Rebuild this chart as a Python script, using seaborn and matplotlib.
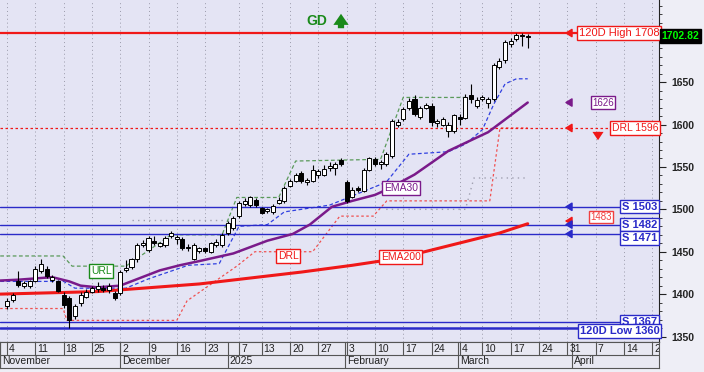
import matplotlib
matplotlib.use("Agg")
import matplotlib.pyplot as plt
import numpy as np
import seaborn as sns

# daily candles, one per trading day starting Mon 4 Nov 2024
opens = [1386, 1393, 1415, 1410, 1409, 1416, 1427, 1430, 1417, 1415,
         1399, 1395, 1374, 1389, 1397, 1403, 1406, 1407, 1405, 1401,
         1401, 1428, 1432, 1441, 1458, 1452, 1463, 1457, 1458, 1468,
         1465, 1465, 1456, 1442, 1451, 1454, 1450, 1458, 1458, 1472,
         1478, 1492, 1506, 1505, 1511, 1501, 1498, 1497, 1508, 1510,
         1528, 1534, 1543, 1532, 1534, 1540, 1541, 1549, 1549, 1558,
         1532, 1515, 1525, 1522, 1547, 1559, 1554, 1553, 1563, 1600,
         1606, 1619, 1630, 1609, 1620, 1622, 1602, 1600, 1593, 1593,
         1609, 1608, 1635, 1622, 1630, 1625, 1630, 1668, 1676, 1695,
         1701, 1706, 1704]
highs = [1395, 1401, 1427, 1415, 1417, 1433, 1442, 1433, 1423, 1417,
         1402, 1398, 1388, 1402, 1406, 1410, 1414, 1411, 1413, 1404,
         1428, 1440, 1443, 1460, 1464, 1468, 1469, 1462, 1468, 1475,
         1470, 1467, 1459, 1460, 1456, 1456, 1462, 1465, 1472, 1486,
         1492, 1510, 1513, 1516, 1513, 1503, 1502, 1506, 1514, 1527,
         1536, 1543, 1545, 1537, 1552, 1548, 1552, 1556, 1556, 1560,
         1535, 1526, 1527, 1549, 1562, 1562, 1558, 1568, 1607, 1606,
         1621, 1631, 1635, 1622, 1626, 1625, 1607, 1609, 1603, 1613,
         1612, 1636, 1648, 1632, 1635, 1633, 1673, 1678, 1700, 1702,
         1708, 1708, 1707]
lows = [1383, 1391, 1408, 1407, 1407, 1414, 1425, 1419, 1414, 1402,
        1384, 1360, 1371, 1386, 1395, 1401, 1403, 1402, 1401, 1393,
        1399, 1426, 1430, 1438, 1455, 1450, 1458, 1455, 1456, 1466,
        1459, 1452, 1451, 1440, 1449, 1449, 1448, 1456, 1456, 1470,
        1476, 1490, 1504, 1503, 1503, 1494, 1496, 1495, 1506, 1508,
        1526, 1532, 1531, 1529, 1532, 1537, 1539, 1545, 1540, 1551,
        1508, 1513, 1521, 1520, 1545, 1551, 1548, 1551, 1560, 1597,
        1604, 1617, 1610, 1606, 1618, 1598, 1597, 1598, 1585, 1590,
        1600, 1606, 1626, 1620, 1628, 1620, 1628, 1665, 1673, 1692,
        1699, 1693, 1690]
closes = [1392, 1399, 1411, 1413, 1415, 1430, 1436, 1421, 1420, 1404,
          1387, 1369, 1386, 1399, 1403, 1407, 1409, 1405, 1409, 1395,
          1426, 1431, 1441, 1458, 1460, 1466, 1460, 1460, 1466, 1472,
          1467, 1454, 1454, 1458, 1454, 1451, 1460, 1462, 1470, 1484,
          1490, 1508, 1510, 1514, 1505, 1496, 1500, 1504, 1511, 1525,
          1534, 1541, 1534, 1535, 1547, 1545, 1548, 1551, 1553, 1553,
          1510, 1523, 1523, 1547, 1560, 1553, 1556, 1565, 1604, 1603,
          1618, 1628, 1612, 1620, 1623, 1603, 1604, 1606, 1600, 1611,
          1606, 1633, 1630, 1629, 1632, 1630, 1670, 1675, 1697, 1699,
          1706, 1704, 1702.82]

# date axis (trading-day index of each tick)
tick_days = [0, 5, 10, 15, 20, 25, 30, 35, 41, 45, 50, 55, 60, 65, 70, 75,
             80, 84, 89, 94, 99, 104, 109, 114]
tick_labels = ["4", "11", "18", "25", "2", "9", "16", "23", "7", "13", "20", "27",
               "3", "10", "17", "24", "4", "10", "17", "24", "31", "7", "14", "21"]
month_starts = [-1.2, 20, 39, 59.7, 79.7, 99.8]
month_labels = ["November", "December", "2025", "February", "March", "April"]

# overlay lines (day index, value)
ema30_x = [-1.2, 2, 8, 11, 13, 16, 20, 23.5, 27, 30.5, 34, 40, 46, 50.5, 53.5,
           57.4, 61, 65, 67, 72, 78, 85, 92]
ema30_y = [1416, 1417, 1420, 1415, 1410, 1408, 1410, 1419, 1428, 1434, 1439, 1448,
           1463, 1471, 1482, 1503, 1510, 1517, 1523, 1541, 1569, 1591, 1626]
ema200_x = [-1.2, 16, 34, 52, 61, 69, 78, 87, 92]
ema200_y = [1400, 1403, 1412, 1426, 1434, 1442, 1457, 1472, 1483]
band_x = [-1.2, 10, 12, 21, 25, 32, 37.5, 41, 46, 49, 57, 67, 71, 78, 81, 84, 86, 88, 90, 92]
band_y = [1415, 1415, 1407, 1407, 1418, 1434, 1436, 1480, 1482, 1497, 1505, 1532,
          1565, 1568, 1577, 1594, 1624, 1648, 1654, 1654]
drl_x = [-1.2, 9.9, 10.6, 30, 31.8, 40.6, 43.8, 54, 58.8, 64.7, 67.1, 85.3, 87.1, 92]
drl_y = [1383, 1383, 1369, 1369, 1392, 1433, 1450, 1450, 1492, 1492, 1510, 1510, 1596, 1596]
url_x = [-1.2, 9.9, 11.5, 21, 29, 38, 40.6, 48, 51, 66, 70, 81]
url_y = [1445, 1445, 1433, 1433, 1470, 1470, 1514, 1514, 1557, 1559, 1632, 1632]
stop1_x = [22, 39]
stop1_y = [1488, 1488]
stop2_x = [67, 81, 82.5, 92]
stop2_y = [1500, 1500, 1537, 1537]

high_120 = 1708
low_120 = 1360
supports = [1503, 1482, 1471, 1367]
drl_level = 1596
ema30_last = 1626
ema200_last = 1483
last_close = 1702.82

RED = "#f01818"
BLUE = "#2a2ac8"
PURPLE = "#7a1a8a"
GREEN = "#1a8a1a"
BG = "#e4e4f4"

sns.set_style("white")
plt.rcParams["font.family"] = ["Liberation Sans", "DejaVu Sans"]


def px(xpix):
    # pixel column of the reference -> trading-day index
    return (xpix - 7) / 5.66


def py(ypix):
    # pixel row of the reference -> price
    return 1350 + (336.5 - ypix) / 0.8477


fig = plt.figure(figsize=(7.04, 3.72), dpi=100)
fig.patch.set_facecolor("#eeeef6")
ax = fig.add_axes([0, 30 / 372, 659 / 704, 342 / 372])
ax.set_facecolor(BG)
ax.set_xlim(px(0), px(659))
ax.set_ylim(py(342), py(0))

# week grid
for t in tick_days:
    ax.axvline(t, color="#9a9aaa", lw=0.7, ls=(0, (1, 3)), zorder=1)

# horizontal levels
ax.axhline(high_120, color=RED, lw=1.6, zorder=3)
ax.plot([px(0), px(610)], [drl_level] * 2, color=RED, lw=0.9, ls=(0, (2, 2)), zorder=3)
for s in supports[:3]:
    ax.plot([px(0), px(620)], [s, s], color=BLUE, lw=1.0, zorder=3)
ax.plot([px(0), px(620)], [supports[3]] * 2, color=BLUE, lw=1.0, zorder=3)
ax.plot([px(0), px(580)], [low_120] * 2, color=BLUE, lw=1.8, zorder=3)

# indicator lines
for sx, sy in ((stop1_x, stop1_y), (stop2_x, stop2_y)):
    sns.lineplot(x=sx, y=sy, ax=ax, color="#a0a0b0", lw=1.0, ls=(0, (1, 3)), sort=False, zorder=2)
sns.lineplot(x=url_x, y=url_y, ax=ax, color="#5a9a5a", lw=0.9, ls=(0, (3, 2)), sort=False, zorder=2)
sns.lineplot(x=drl_x, y=drl_y, ax=ax, color="#f05050", lw=0.9, ls=(0, (2, 2)), sort=False, zorder=2)
sns.lineplot(x=band_x, y=band_y, ax=ax, color="#3040e0", lw=0.9, ls=(0, (3, 2)), sort=False, zorder=2)
sns.lineplot(x=ema200_x, y=ema200_y, ax=ax, color=RED, lw=2.2, sort=False, zorder=3)
sns.lineplot(x=ema30_x, y=ema30_y, ax=ax, color=PURPLE, lw=1.8, sort=False, zorder=3)

# candles
x = np.arange(len(closes))
o, h, l, c = (np.array(v, dtype=float) for v in (opens, highs, lows, closes))
up = c >= o
body = np.maximum(np.abs(c - o), 0.8)
ax.vlines(x, l, h, color="black", lw=0.8, zorder=4)
ax.bar(x[up], body[up], bottom=o[up], width=0.72, color="white", edgecolor="black", lw=0.7, zorder=5)
ax.bar(x[~up], body[~up], bottom=c[~up], width=0.72, color="black", edgecolor="black", lw=0.7, zorder=5)


def tag(xd, yd, s, color, size=7.5, ha="left", weight="normal"):
    ax.text(xd, yd, s, color=color, fontsize=size, ha=ha, va="center", zorder=8,
            fontweight=weight, bbox=dict(boxstyle="square,pad=0.15", fc="white", ec=color, lw=1.0))


def arrow(yd, color):
    ax.annotate("", xy=(px(562), yd), xytext=(px(573), yd), zorder=8,
                arrowprops=dict(arrowstyle="-|>,head_width=0.25,head_length=0.4", color=color, lw=1.2))


tag(px(579), high_120, "120D High 1708", RED, size=8)
tag(px(612), drl_level, "DRL 1596", RED, size=7.5)
tag(px(592), ema30_last, "1626", PURPLE, size=7)
tag(px(590), py(217), "1483", "#f04040", size=7)
tag(px(622), supports[0], "S 1503", BLUE, size=8, weight="bold")
tag(px(622), supports[1], "S 1482", BLUE, size=8, weight="bold")
tag(px(622), py(238), "S 1471", BLUE, size=8, weight="bold")
tag(px(622), py(322), "S 1367", BLUE, size=8, weight="bold")
tag(px(580), py(331), "120D Low 1360", BLUE, size=8, weight="bold")

for yv, col in [(high_120, RED), (ema30_last, PURPLE), (drl_level, RED), (supports[0], BLUE),
                (py(221), RED), (supports[1], BLUE), (supports[2], BLUE)]:
    arrow(yv, col)

ax.annotate("", xy=(px(598), py(143)), xytext=(px(598), py(129)), zorder=8,
            arrowprops=dict(arrowstyle="simple,head_width=0.8,head_length=0.6,tail_width=0.3",
                            color=RED, lw=0))

tag(px(384), py(188), "EMA30", PURPLE, size=7.5)
tag(px(381), py(257), "EMA200", RED, size=7.5)
tag(px(278), py(256), "DRL", RED, size=7.5)
tag(px(91), py(271), "URL", GREEN, size=7.5)

ax.text(px(306), py(21), "GD", color=GREEN, fontsize=10, fontweight="bold", va="center", ha="left", zorder=8)
ax.annotate("", xy=(px(341), py(11)), xytext=(px(341), py(31)), zorder=8,
            arrowprops=dict(arrowstyle="simple,head_width=1.1,head_length=0.8,tail_width=0.45",
                            color=GREEN, lw=0))

# right price axis
ax.yaxis.tick_right()
ax.set_yticks(range(1350, 1651, 50))
ax.set_yticks(range(1350, 1741, 10), minor=True)
ax.tick_params(axis="y", which="major", length=5, width=0.8, labelsize=7.5, pad=4, colors="#222222")
ax.tick_params(axis="y", which="minor", length=2.5, width=0.6, colors="#222222")
for lab in ax.get_yticklabels():
    lab.set_fontweight("bold")
ax.set_xticks([])
for side in ("left", "top"):
    ax.spines[side].set_visible(False)
ax.spines["right"].set_color("#222222")
ax.spines["bottom"].set_color("#222222")

ax.text(1.004, last_close + 2, "1702.82", transform=ax.get_yaxis_transform(), color="#00ff00",
        fontsize=7.5, fontweight="bold", va="center", ha="left", zorder=10, clip_on=False,
        bbox=dict(boxstyle="square,pad=0.2", fc="black", ec="black"))

# date strip
axd = fig.add_axes([0, 4 / 372, 659 / 704, 26 / 372])
axd.set_facecolor("#e8e8f2")
axd.set_xlim(ax.get_xlim())
axd.set_ylim(0, 2)
axd.set_xticks([])
axd.set_yticks([])
for sp in axd.spines.values():
    sp.set_color("#555555")
    sp.set_linewidth(0.8)
axd.axhline(1, color="#555555", lw=0.8)
axd.vlines(tick_days, 1, 2, color="#555555", lw=0.8)
axd.vlines(month_starts, 0, 2, color="#555555", lw=0.8)
for t, s in zip(tick_days, tick_labels):
    axd.text(t + 0.35, 1.5, s, fontsize=7.5, va="center", ha="left", color="#222222", clip_on=True)
for m, s in zip(month_starts, month_labels):
    axd.text(m + 0.35, 0.5, s, fontsize=7.5, va="center", ha="left", color="#222222", clip_on=True)

fig.savefig("out.png", dpi=100, facecolor=fig.get_facecolor())
